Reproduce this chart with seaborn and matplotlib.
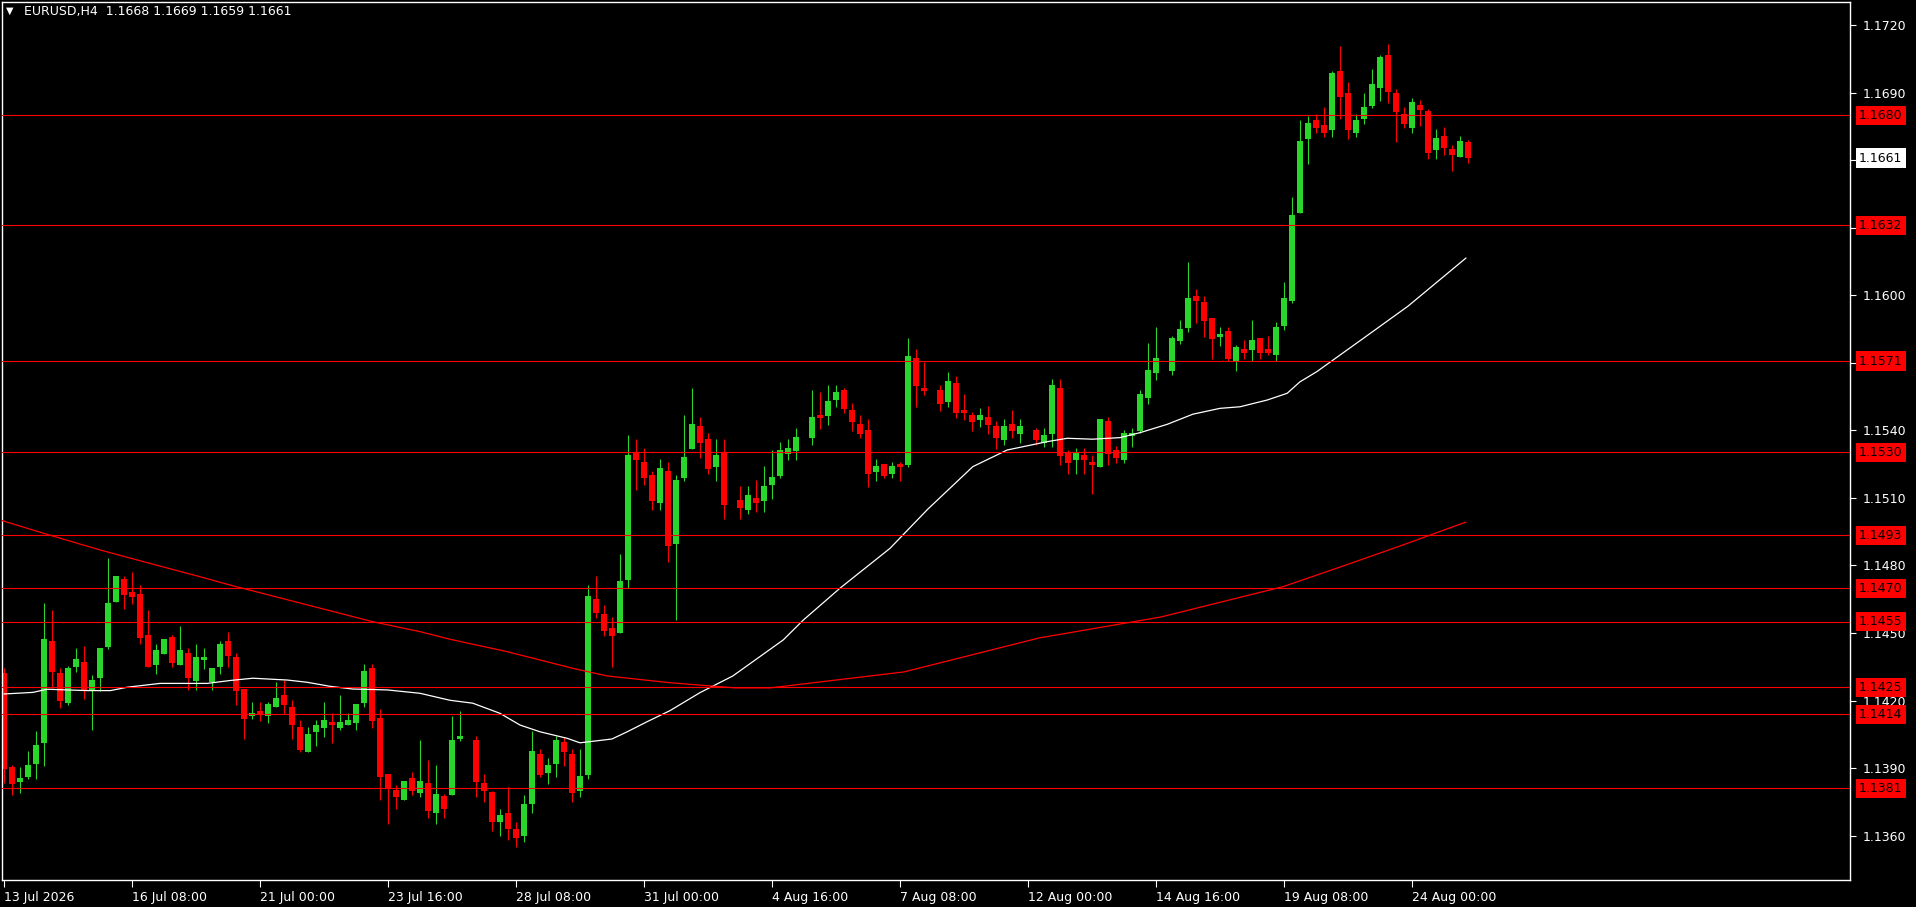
import numpy as np
import pandas as pd
import matplotlib
matplotlib.use("Agg")
import matplotlib.pyplot as plt
import seaborn as sns

nan = np.nan

# EURUSD H4 candles (nan = empty slot)
opens = [
    1.14321, 1.13905, 1.13839, 1.13862, 1.13920, 1.14013, 1.14464, 1.14322, 1.14190, 1.14350,
    1.14371, 1.14241, 1.14302, 1.14439, 1.14639, 1.14740, 1.14682, 1.14673, 1.14491, 1.14359,
    1.14408, 1.14482, 1.14359, 1.14411, 1.14288, 1.14381, 1.14281, 1.14350, 1.14464, 1.14394,
    1.14251, 1.14129, 1.14154, 1.14129, 1.14169, 1.14225, 1.14171, 1.14083, 1.13973, 1.14062,
    1.14080, 1.14105, 1.14080, 1.14089, 1.14102, 1.14191, 1.14345, 1.14123, 1.13874, 1.13803,
    1.13760, 1.13856, 1.13791, 1.13834, 1.13702, 1.13776, 1.13780, 1.14030, nan, 1.14024,
    1.13832, 1.13793, 1.13660, 1.13700, 1.13630, 1.13600, 1.13740, 1.13962, 1.13877, 1.13917,
    1.14015, 1.13962, 1.13798, 1.13869, 1.14651, 1.14584, 1.14522, 1.14500, 1.14735, 1.15299,
    1.15259, 1.15202, 1.15077, 1.15219, 1.14897, 1.15190, 1.15319, 1.15420, 1.15362, 1.15239,
    1.15301, nan, 1.15091, 1.15048, 1.15100, 1.15088, 1.15159, 1.15199, 1.15297, 1.15310,
    nan, 1.15368, 1.15469, 1.15466, 1.15537, 1.15580, 1.15491, 1.15429, 1.15402, 1.15217,
    1.15251, 1.15208, 1.15251, 1.15248, 1.15722, 1.15588, nan, 1.15580, 1.15528, 1.15610,
    1.15492, 1.15468, 1.15448, 1.15459, 1.15419, 1.15359, 1.15428, 1.15386, nan, 1.15402,
    1.15345, 1.15386, 1.15588, 1.15301, 1.15270, 1.15292, 1.15259, 1.15239, 1.15442, 1.15313,
    1.15270, 1.15376, 1.15399, 1.15545, 1.15656, nan, 1.15665, 1.15799, 1.15856, 1.15997,
    1.15970, 1.15899, 1.15816, 1.15842, 1.15710, 1.15762, 1.15759, 1.15810, 1.15762, 1.15736,
    1.15865, 1.15976, 1.16367, 1.16696, 1.16779, 1.16757, 1.16736, 1.16997, 1.16899, 1.16723,
    1.16785, 1.16843, 1.16923, 1.17068, 1.16899, 1.16806, 1.16745, 1.16846, 1.16819, 1.16647,
    1.16708, 1.16650, 1.16616, 1.16680,
]
highs = [
    1.14346, 1.13913, 1.13905, 1.13976, 1.14065, 1.14633, 1.14602, 1.14344, 1.14353, 1.14433,
    1.14442, 1.14313, 1.14433, 1.14833, 1.14753, 1.14753, 1.14771, 1.14713, 1.14602, 1.14451,
    1.14473, 1.14491, 1.14531, 1.14433, 1.14451, 1.14433, 1.14344, 1.14464, 1.14504, 1.14411,
    1.14251, 1.14194, 1.14194, 1.14194, 1.14283, 1.14291, 1.14203, 1.14114, 1.14083, 1.14114,
    1.14194, 1.14145, 1.14225, 1.14145, 1.14185, 1.14363, 1.14363, 1.14163, 1.13874, 1.13825,
    1.13843, 1.13883, 1.14025, 1.13936, 1.13914, 1.13785, 1.14131, 1.14153, nan, 1.14042,
    1.13873, 1.13800, 1.13720, 1.13817, 1.13660, 1.13780, 1.14064, 1.13984, 1.13944, 1.14042,
    1.14037, 1.13984, 1.13984, 1.14713, 1.14753, 1.14624, 1.14571, 1.14850, 1.15379, 1.15361,
    1.15321, 1.15219, 1.15273, 1.15259, 1.15202, 1.15469, 1.15589, 1.15460, 1.15389, 1.15362,
    1.15362, nan, 1.15153, 1.15153, 1.15180, 1.15242, 1.15313, 1.15349, 1.15362, 1.15411,
    nan, 1.15580, 1.15571, 1.15602, 1.15602, 1.15589, 1.15522, 1.15469, 1.15451, 1.15273,
    1.15251, 1.15259, 1.15259, 1.15811, 1.15762, 1.15704, nan, 1.15602, 1.15659, 1.15642,
    1.15562, 1.15483, 1.15499, 1.15508, 1.15442, 1.15450, 1.15490, 1.15450, nan, 1.15410,
    1.15410, 1.15628, 1.15628, 1.15313, 1.15322, 1.15322, 1.15292, 1.15450, 1.15459, 1.15331,
    1.15402, 1.15411, 1.15580, 1.15788, 1.15859, nan, 1.15819, 1.15890, 1.16148, 1.16028,
    1.15997, 1.15899, 1.15859, 1.15859, 1.15779, 1.15801, 1.15890, 1.15810, 1.15819, 1.15881,
    1.16059, 1.16437, 1.16779, 1.16797, 1.16806, 1.16837, 1.16997, 1.17108, 1.16948, 1.16806,
    1.16899, 1.17006, 1.17068, 1.17117, 1.16917, 1.16837, 1.16877, 1.16868, 1.16828, 1.16739,
    1.16748, 1.16668, 1.16708, 1.16690,
]
lows = [
    1.13832, 1.13782, 1.13791, 1.13853, 1.13851, 1.13911, 1.14254, 1.14168, 1.14182, 1.14328,
    1.14208, 1.14070, 1.14241, 1.14430, 1.14639, 1.14608, 1.14630, 1.14452, 1.14350, 1.14319,
    1.14408, 1.14350, 1.14359, 1.14248, 1.14248, 1.14341, 1.14248, 1.14319, 1.14350, 1.14180,
    1.14031, 1.14120, 1.14111, 1.14102, 1.14169, 1.14140, 1.14031, 1.13973, 1.13973, 1.14000,
    1.14040, 1.14013, 1.14071, 1.14089, 1.14071, 1.14169, 1.14080, 1.13760, 1.13653, 1.13720,
    1.13760, 1.13782, 1.13773, 1.13680, 1.13653, 1.13680, 1.13780, 1.14021, nan, 1.13772,
    1.13750, 1.13620, 1.13600, 1.13580, 1.13550, 1.13570, 1.13700, 1.13860, 1.13829, 1.13860,
    1.13909, 1.13750, 1.13771, 1.13851, 1.14566, 1.14486, 1.14348, 1.14500, 1.14700, 1.15135,
    1.15157, 1.15046, 1.15046, 1.14815, 1.14559, 1.15177, 1.15319, 1.15279, 1.15208, 1.15177,
    1.15008, nan, 1.15008, 1.15030, 1.15039, 1.15039, 1.15097, 1.15190, 1.15270, 1.15270,
    nan, 1.15337, 1.15408, 1.15426, 1.15506, 1.15479, 1.15399, 1.15368, 1.15150, 1.15177,
    1.15190, 1.15190, 1.15177, 1.15239, 1.15505, 1.15559, nan, 1.15488, 1.15505, 1.15457,
    1.15448, 1.15399, 1.15416, 1.15386, 1.15319, 1.15336, 1.15368, 1.15345, nan, 1.15336,
    1.15328, 1.15328, 1.15248, 1.15208, 1.15208, 1.15208, 1.15119, 1.15239, 1.15248, 1.15257,
    1.15257, 1.15328, 1.15390, 1.15519, 1.15625, nan, 1.15647, 1.15785, 1.15839, 1.15879,
    1.15816, 1.15719, 1.15776, 1.15710, 1.15665, 1.15719, 1.15710, 1.15719, 1.15736, 1.15710,
    1.15847, 1.15967, 1.16367, 1.16585, 1.16723, 1.16705, 1.16705, 1.16785, 1.16696, 1.16705,
    1.16763, 1.16834, 1.16865, 1.16856, 1.16683, 1.16745, 1.16723, 1.16754, 1.16607, 1.16607,
    1.16625, 1.16554, 1.16616, 1.16590,
]
closes = [
    1.13894, 1.13831, 1.13856, 1.13913, 1.14002, 1.14473, 1.14328, 1.14199, 1.14344, 1.14384,
    1.14248, 1.14291, 1.14433, 1.14633, 1.14753, 1.14670, 1.14661, 1.14479, 1.14350, 1.14424,
    1.14473, 1.14368, 1.14424, 1.14302, 1.14393, 1.14393, 1.14344, 1.14451, 1.14399, 1.14240,
    1.14120, 1.14143, 1.14139, 1.14185, 1.14211, 1.14182, 1.14089, 1.13982, 1.14052, 1.14091,
    1.14114, 1.14089, 1.14105, 1.14114, 1.14185, 1.14331, 1.14111, 1.13862, 1.13813, 1.13773,
    1.13843, 1.13800, 1.13843, 1.13711, 1.13785, 1.13720, 1.14024, 1.14042, nan, 1.13839,
    1.13799, 1.13660, 1.13690, 1.13630, 1.13590, 1.13740, 1.13975, 1.13869, 1.13913, 1.14024,
    1.13971, 1.13789, 1.13864, 1.14664, 1.14588, 1.14508, 1.14486, 1.14730, 1.15290, 1.15268,
    1.15188, 1.15086, 1.15233, 1.14886, 1.15180, 1.15282, 1.15429, 1.15346, 1.15230, 1.15291,
    1.15070, nan, 1.15057, 1.15113, 1.15079, 1.15153, 1.15193, 1.15313, 1.15322, 1.15371,
    nan, 1.15460, 1.15457, 1.15531, 1.15571, 1.15497, 1.15439, 1.15386, 1.15208, 1.15242,
    1.15199, 1.15242, 1.15239, 1.15730, 1.15599, 1.15577, nan, 1.15519, 1.15619, 1.15479,
    1.15479, 1.15439, 1.15468, 1.15425, 1.15368, 1.15419, 1.15399, 1.15419, nan, 1.15359,
    1.15379, 1.15602, 1.15288, 1.15257, 1.15301, 1.15270, 1.15248, 1.15450, 1.15297, 1.15279,
    1.15388, 1.15388, 1.15562, 1.15668, 1.15722, nan, 1.15810, 1.15850, 1.15988, 1.15976,
    1.15887, 1.15807, 1.15828, 1.15719, 1.15770, 1.15745, 1.15801, 1.15745, 1.15745, 1.15859,
    1.15988, 1.16357, 1.16686, 1.16766, 1.16745, 1.16723, 1.16988, 1.16883, 1.16736, 1.16779,
    1.16837, 1.16939, 1.17059, 1.16905, 1.16816, 1.16763, 1.16859, 1.16825, 1.16634, 1.16699,
    1.16656, 1.16625, 1.16686, 1.16610,
]

# moving averages, sampled along the drawn lines (bar position, price)
white_ma_bar = [0, 3.6, 5.4, 10.4, 13.3, 15.4, 19.5, 25.4, 28.3, 31.1, 35.4, 37.9, 40.75,
                43.6, 47.9, 52, 55.75, 58.6, 62, 64.5, 67, 70.4, 72, 76, 77.9, 80.4, 83.25,
                87, 91.1, 97.4, 99.9, 104.5, 110.75, 115.5, 121.1, 125.4, 130.4, 132.9,
                136.1, 139.5, 142, 145.4, 148.6, 152, 154.5, 157.9, 160.4, 162, 164.1,
                165.75, 170.5, 175.5, 182.75]
white_ma = [1.14229, 1.14236, 1.14250, 1.14244, 1.14244, 1.14259, 1.14276, 1.14276, 1.14289,
            1.14299, 1.14291, 1.14281, 1.14263, 1.14251, 1.14247, 1.14232, 1.14201, 1.14188,
            1.14143, 1.14091, 1.14061, 1.14032, 1.14012, 1.14029, 1.14061, 1.14106, 1.14155,
            1.14235, 1.14309, 1.14469, 1.14557, 1.14699, 1.14876, 1.15051, 1.15239, 1.15313,
            1.15350, 1.15365, 1.15361, 1.15368, 1.15390, 1.15427, 1.15472, 1.15498, 1.15505,
            1.15535, 1.15565, 1.15616, 1.15661, 1.15703, 1.15824, 1.15952, 1.16166]
red_ma_bar = [-0.5, 5.4, 12, 18.25, 24.5, 28.25, 46.1, 52, 55.75, 62.9, 71.1, 75.4, 83.25,
              91.4, 95.75, 112.5, 129.4, 144.6, 159.9, 167.5, 175.1, 182.75]
red_ma = [1.15002, 1.14938, 1.14869, 1.14809, 1.14750, 1.14713, 1.14550, 1.14506, 1.14472,
          1.14417, 1.14343, 1.14309, 1.14279, 1.14256, 1.14256, 1.14327, 1.14478, 1.14571,
          1.14706, 1.14799, 1.14894, 1.14993]

# horizontal levels and their price-scale labels
level_prices = [1.16800, 1.16311, 1.15708, 1.15303, 1.14934, 1.14699, 1.14550, 1.14259, 1.14139, 1.13810]
level_labels = ["1.1680", "1.1632", "1.1571", "1.1530", "1.1493", "1.1470", "1.1455", "1.1425", "1.1414", "1.1381"]

price_ticks = [1.1360, 1.1390, 1.1420, 1.1450, 1.1480, 1.1510, 1.1540, 1.1570, 1.1600,
               1.1630, 1.1660, 1.1690, 1.1720]
# these scale labels sit fully under a price tag in the chart
hidden_ticks = [1.1570, 1.1630, 1.1660]
time_tick_bars = [0, 16, 32, 48, 64, 80, 96, 112, 128, 144, 160, 176]
time_tick_labels = ["13 Jul 2026", "16 Jul 08:00", "21 Jul 00:00", "23 Jul 16:00", "28 Jul 08:00",
                    "31 Jul 00:00", "4 Aug 16:00", "7 Aug 08:00", "12 Aug 00:00", "14 Aug 16:00",
                    "19 Aug 08:00", "24 Aug 00:00"]

header = "EURUSD,H4  1.1668 1.1669 1.1659 1.1661"
last_price = 1.1661

assert len(opens) == len(highs) == len(lows) == len(closes) == 184

GREEN = "#2bd62b"
RED = "#ff0000"

sns.set_theme(style="dark", rc={"axes.facecolor": "black", "figure.facecolor": "black",
                                "axes.edgecolor": "white", "text.color": "white"})
plt.rcParams["font.family"] = ["DejaVu Sans"]

fig = plt.figure(figsize=(19.16, 9.07), dpi=100)
fig.patch.set_facecolor("black")
ax = fig.add_axes([2 / 1916, 27 / 907, 1848 / 1916, 878 / 907])
ax.set_facecolor("black")

df = pd.DataFrame({"bar": np.arange(len(opens)), "open": opens, "high": highs,
                   "low": lows, "close": closes}).dropna()
up = df["close"] >= df["open"]
colors = np.where(up, GREEN, RED)

# wicks and bodies
ax.vlines(df["bar"], df["low"], df["high"], colors=colors, linewidth=0.8, zorder=2)
body_lo = np.minimum(df["open"], df["close"])
body_h = np.maximum((df["close"] - df["open"]).abs(), 0.00003)
ax.bar(df["bar"], body_h, bottom=body_lo, width=0.68, color=colors, linewidth=0, zorder=2)

# moving averages
sns.lineplot(x=white_ma_bar, y=white_ma, color="white", linewidth=0.9, ax=ax,
             estimator=None, sort=False, zorder=3)
sns.lineplot(x=red_ma_bar, y=red_ma, color=RED, linewidth=0.9, ax=ax,
             estimator=None, sort=False, zorder=3)

ax.set_xlim(-0.25, 230.75)
ax.set_ylim(1.134025, 1.173034)

# price scale on the right
ax.yaxis.tick_right()
ax.set_yticks(price_ticks)
ax.set_yticklabels(["" if v in hidden_ticks else f"{v:.4f}" for v in price_ticks])
ax.tick_params(axis="y", colors="white", labelcolor="white", length=4, width=0.8,
               labelsize=9, pad=5, direction="out", right=True, left=False)

ax.set_xticks(time_tick_bars)
ax.set_xticklabels(time_tick_labels)
ax.tick_params(axis="x", colors="white", labelcolor="white", length=5, width=0.8,
               labelsize=9, pad=3, direction="out", bottom=True)
for lab in ax.get_xticklabels():
    lab.set_horizontalalignment("left")

for side in ["left", "right", "top", "bottom"]:
    ax.spines[side].set_color("white")
    ax.spines[side].set_linewidth(1)
ax.grid(False)
ax.set_xlabel("")
ax.set_ylabel("")

# horizontal levels with red price tags
for lvl, lab in zip(level_prices, level_labels):
    ax.axhline(lvl, color=RED, linewidth=0.8, zorder=4)
    ax.annotate(lab, xy=(1, lvl), xycoords=("axes fraction", "data"),
                xytext=(6.5, 0), textcoords="offset points", va="center", ha="left",
                fontsize=9, color="black", zorder=6, annotation_clip=False,
                bbox=dict(boxstyle="square,pad=0.25", fc=RED, ec="none"))

# current price tag
ax.annotate(f"{last_price:.4f}", xy=(1, last_price), xycoords=("axes fraction", "data"),
            xytext=(6.5, 0), textcoords="offset points", va="center", ha="left",
            fontsize=9, color="black", zorder=6, annotation_clip=False,
            bbox=dict(boxstyle="square,pad=0.25", fc="white", ec="none"))

# header line
fig.text(6 / 1916, 1 - 11 / 907, "\u25bc", color="white", fontsize=7, va="center", ha="left")
fig.text(24 / 1916, 1 - 12 / 907, header, color="white", fontsize=9, va="center", ha="left")

fig.savefig("out.png", dpi=100, facecolor="black")
